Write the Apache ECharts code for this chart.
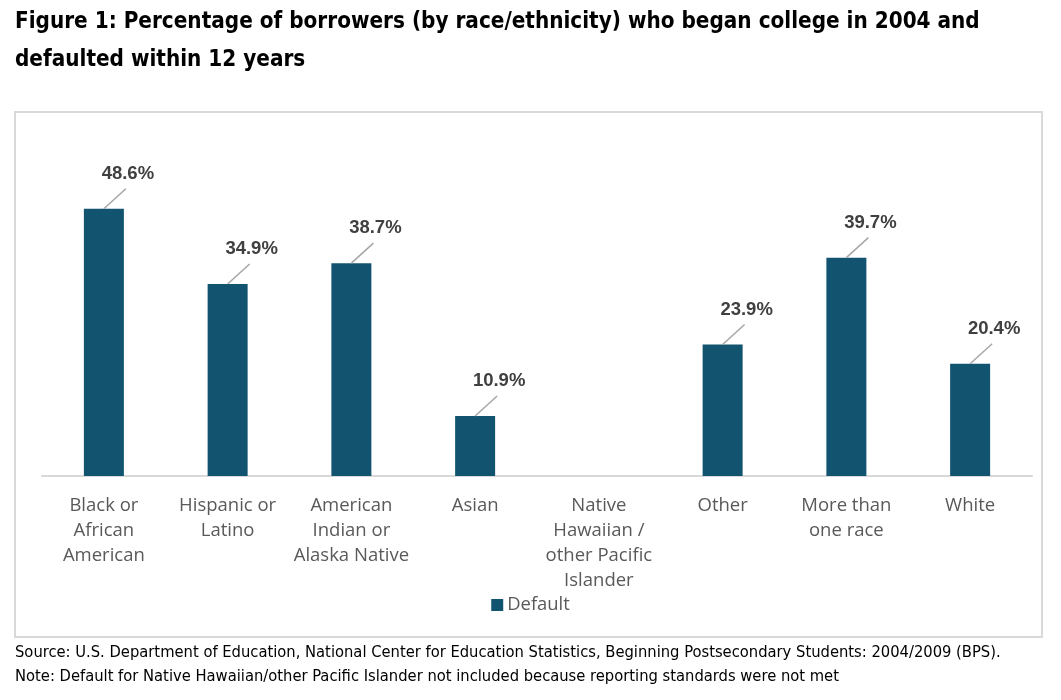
<!DOCTYPE html>
<html><head><meta charset="utf-8">
<script src="https://cdn.jsdelivr.net/npm/echarts@6/dist/echarts.min.js"></script>
<style>html,body{margin:0;padding:0;background:#fff}#c{width:1061px;height:700px}</style>
</head><body><div id="c"></div>
<script>
const categories = ["Black or\nAfrican\nAmerican","Hispanic or\nLatino","American\nIndian or\nAlaska Native","Asian","Native\nHawaiian /\nother Pacific\nIslander","Other","More than\none race","White"];
const defaultValues = [48.6, 34.9, 38.7, 10.9, null, 23.9, 39.7, 20.4];
const seriesName = "Default";
const titleText = "Figure 1: Percentage of borrowers (by race/ethnicity) who began college in 2004 and\ndefaulted within 12 years";
const sourceText = "Source: U.S. Department of Education, National Center for Education Statistics, Beginning Postsecondary Students: 2004/2009 (BPS).";
const noteText = "Note: Default for Native Hawaiian/other Pacific Islander not included because reporting standards were not met";

const chart = echarts.init(document.getElementById('c'));
const narrow = '"Liberation Sans Narrow","DejaVu Sans Condensed","Liberation Sans",sans-serif';
const labelData = defaultValues.map((v, i) => v == null ? null : [i, v]).filter(d => d);
chart.setOption({
  animation:false,
  backgroundColor:'#fff',
  title:{text:titleText,left:10,top:-2,textStyle:{fontFamily:narrow,fontWeight:'bold',fontSize:22.3,lineHeight:38,color:'#000'}},
  graphic:[
    {type:'rect',shape:{x:15,y:112,width:1027,height:525},style:{fill:'none',stroke:'#d9d9d9',lineWidth:2},z:-1},
    {type:'text',left:15,top:645,style:{text:sourceText,font:'16.4px '+narrow,fill:'#000'}},
    {type:'text',left:15,top:669,style:{text:noteText,font:'16.4px '+narrow,fill:'#000'}}
  ],
  legend:{data:[seriesName],top:591,left:'center',itemWidth:12,itemHeight:12,itemGap:4,icon:'rect',
    textStyle:{fontFamily:'"Open Sans",sans-serif',fontSize:18.4,color:'#595959',padding:[0,0,0,-1]}},
  grid:{left:42,right:29,top:201,bottom:224,containLabel:false},
  xAxis:{type:'category',data:categories,
    axisLine:{lineStyle:{color:'#d9d9d9',width:2}},axisTick:{show:false},
    axisLabel:{interval:0,margin:17,fontFamily:'"Open Sans",sans-serif',fontSize:18.5,lineHeight:25,color:'#595959'}},
  yAxis:{type:'value',min:0,max:50,show:false,splitLine:{show:false}},
  series:[
    {type:'bar',name:seriesName,data:defaultValues,barWidth:40,itemStyle:{color:'#12536f'}},
    {type:'custom',name:'labels',data:labelData,silent:true,z:5,
      renderItem:function(params, api){
        const p = api.coord([api.value(0), api.value(1)]);
        const v = api.value(1);
        return {type:'group',children:[
          {type:'line',shape:{x1:p[0],y1:p[1],x2:p[0]+22,y2:p[1]-20},style:{stroke:'#a6a6a6',lineWidth:1.5}},
          {type:'text',style:{x:p[0]+24,y:p[1]-35,text:v.toFixed(1)+'%',align:'center',verticalAlign:'middle',
            font:'bold 18.5px "Liberation Sans",Arial,sans-serif',fill:'#404040'}}
        ]};
      }}
  ]
});
</script></body></html>
